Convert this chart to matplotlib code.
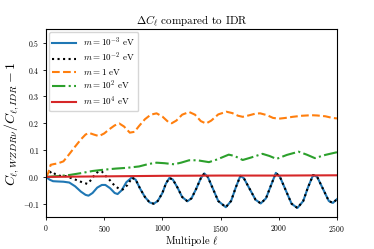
import numpy as np
import matplotlib
matplotlib.use('Agg')
import matplotlib.pyplot as plt

plt.rcParams['mathtext.fontset'] = 'cm'
plt.rcParams['font.family'] = 'serif'
plt.rcParams['font.serif'] = ['cmr10', 'DejaVu Serif']
plt.rcParams['axes.formatter.use_mathtext'] = True

# values
ell_blue = [0, 30, 60, 100, 150, 200, 250, 300, 340, 365, 400, 440, 480, 510, 550, 590, 615, 650,
            690, 735, 770, 810, 850, 890, 925, 960, 1000, 1030, 1060, 1090, 1130, 1170, 1215,
            1250, 1290, 1330, 1360, 1390, 1430, 1480, 1545, 1590, 1630, 1670, 1700, 1750, 1800,
            1845, 1890, 1930, 1975, 2010, 2060, 2110, 2160, 2210, 2250, 2295, 2330, 2380, 2430,
            2465, 2500]
dcl_blue = [0.0, -0.01, -0.016, -0.017, -0.018, -0.021, -0.035, -0.055, -0.067, -0.07, -0.06,
            -0.04, -0.03, -0.03, -0.042, -0.06, -0.064, -0.05, -0.02, -0.003, -0.01, -0.045,
            -0.075, -0.095, -0.1, -0.09, -0.06, -0.025, -0.004, -0.01, -0.04, -0.075, -0.091,
            -0.08, -0.045, -0.005, 0.013, 0.0, -0.04, -0.09, -0.113, -0.09, -0.04, 0.004,
            -0.005, -0.045, -0.085, -0.099, -0.08, -0.035, 0.015, 0.0, -0.05, -0.1, -0.116,
            -0.09, -0.04, 0.007, 0.0, -0.045, -0.09, -0.097, -0.083]

ell_black = [0, 30, 50, 80, 120, 170, 220, 270, 310, 355, 390, 420, 450, 480, 510, 550, 590, 630,
             660, 700, 740] + ell_blue[20:]
dcl_black = [0.0, 0.015, 0.021, 0.01, 0.004, 0.003, -0.005, -0.013, -0.02, -0.026, -0.01, 0.01,
             0.02, 0.02, 0.005, -0.013, -0.033, -0.045, -0.047, -0.03, -0.003] + dcl_blue[20:]

ell_orange = [0, 20, 40, 70, 100, 150, 200, 250, 300, 340, 370, 410, 455, 500, 545, 590, 630, 670,
              720, 760, 800, 850, 900, 950, 1000, 1050, 1080, 1120, 1170, 1230, 1280, 1330, 1375,
              1420, 1480, 1550, 1600, 1650, 1690, 1740, 1800, 1840, 1900, 1950, 2000, 2060, 2120,
              2200, 2280, 2330, 2400, 2460, 2500]
dcl_orange = [0.0, 0.015, 0.045, 0.048, 0.05, 0.058, 0.085, 0.113, 0.14, 0.158, 0.164, 0.158,
              0.152, 0.162, 0.178, 0.192, 0.199, 0.188, 0.165, 0.168, 0.19, 0.215, 0.232, 0.237,
              0.225, 0.205, 0.2, 0.21, 0.232, 0.242, 0.232, 0.208, 0.199, 0.21, 0.233, 0.243,
              0.238, 0.228, 0.224, 0.229, 0.236, 0.237, 0.23, 0.22, 0.217, 0.22, 0.224, 0.228,
              0.23, 0.229, 0.226, 0.22, 0.218]

ell_green = [0, 100, 200, 300, 400, 500, 600, 700, 800, 880, 950, 1020, 1100, 1160, 1230, 1300,
             1400, 1470, 1570, 1620, 1690, 1760, 1860, 1920, 1980, 2070, 2170, 2240, 2310, 2400, 2500]
dcl_green = [0.0, 0.003, 0.007, 0.014, 0.022, 0.027, 0.031, 0.034, 0.039, 0.048, 0.053, 0.051,
             0.047, 0.053, 0.062, 0.062, 0.055, 0.065, 0.083, 0.078, 0.063, 0.072, 0.086, 0.078,
             0.067, 0.082, 0.094, 0.083, 0.07, 0.082, 0.092]

ell_red = [0, 500, 1000, 1500, 2000, 2500]
dcl_red = [0.0, 0.002, 0.004, 0.005, 0.005, 0.006]

labels = [r'$m=10^{-3}$ eV', r'$m=10^{-2}$ eV', r'$m=1$ eV', r'$m=10^{2}$ eV', r'$m=10^{4}$ eV']

fig, ax = plt.subplots(figsize=(3.74, 2.49), dpi=100)
fig.subplots_adjust(left=0.123, right=0.901, top=0.882, bottom=0.128)

ax.plot(ell_blue, dcl_blue, color='C0', lw=1.5, label=labels[0])
ax.plot(ell_black, dcl_black, color='k', ls=':', lw=1.5, label=labels[1])
ax.plot(ell_orange, dcl_orange, color='C1', ls='--', lw=1.5, label=labels[2])
ax.plot(ell_green, dcl_green, color='C2', ls='-.', lw=1.5, label=labels[3])
ax.plot(ell_red, dcl_red, color='C3', lw=1.5, label=labels[4])

ax.set_xlim(0, 2500)
ax.set_ylim(-0.15, 0.55)
ax.set_xticks([0, 500, 1000, 1500, 2000, 2500])
ax.set_yticks([-0.1, 0.0, 0.1, 0.2, 0.3, 0.4, 0.5])
ax.tick_params(labelsize=5.5, length=2.5, width=0.6, pad=2)
for s in ax.spines.values():
    s.set_linewidth(0.8)

ax.set_title(r'$\Delta C_\ell$ compared to IDR', fontsize=8, pad=3)
ax.set_xlabel(r'Multipole $\ell$', fontsize=7.5, labelpad=0)
ax.set_ylabel(r'$C_{\ell,WZDR\nu}/C_{\ell,IDR}-1$', fontsize=10, labelpad=1)
ax.legend(loc='upper left', fontsize=6.5, labelspacing=0.25, handlelength=2.6, borderpad=0.4,
          borderaxespad=0.3)

fig.savefig('out.png', dpi=100)
